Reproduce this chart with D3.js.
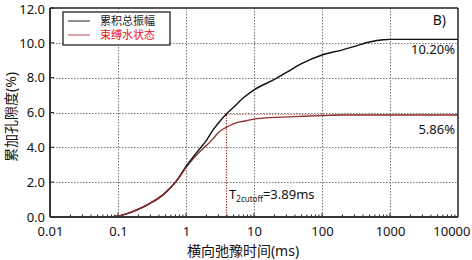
<!DOCTYPE html>
<html>
<head>
<meta charset="utf-8">
<script src="https://cdn.jsdelivr.net/npm/d3@7"></script>
<style>
  body { margin: 0; background: #fff; }
  text { font-family: "Noto Sans", "Noto Sans CJK SC", sans-serif; }
</style>
</head>
<body>
<div id="chart"></div>
<script>
// 数据: 横向弛豫时间 (ms) 与累加孔隙度 (%)
const totalT = [0.01, 0.05, 0.08, 0.1, 0.15, 0.2, 0.3, 0.4, 0.5, 0.7, 1, 1.5, 2, 2.5, 3, 3.89, 5, 7, 10, 20, 30, 50, 100, 200, 300, 500, 800, 1000, 10000];
const totalV = [0, 0, 0.02, 0.05, 0.25, 0.45, 0.8, 1.1, 1.4, 2.0, 2.9, 3.8, 4.4, 5.0, 5.4, 5.9, 6.3, 6.85, 7.3, 7.9, 8.3, 8.8, 9.3, 9.6, 9.8, 10.05, 10.18, 10.2, 10.2];
const boundT = [0.01, 0.05, 0.08, 0.1, 0.15, 0.2, 0.3, 0.4, 0.5, 0.7, 1, 1.5, 2, 2.5, 3, 3.89, 5, 7, 10, 20, 50, 100, 200, 10000];
const boundV = [0, 0, 0.02, 0.05, 0.25, 0.45, 0.8, 1.1, 1.4, 2.0, 2.85, 3.65, 4.1, 4.5, 4.85, 5.15, 5.35, 5.5, 5.62, 5.72, 5.78, 5.82, 5.86, 5.86];
const seriesNames = ["累积总振幅", "束缚水状态"];
const xTicks = [0.01, 0.1, 1, 10, 100, 1000, 10000];
const yTicks = [0, 2, 4, 6, 8, 10, 12];
const t2cutoff = 3.89;
const boundFinal = 5.86;
const totalFinal = 10.2;

const W = 472, H = 260;
const margin = { left: 50, right: 14, top: 8, bottom: 43 };
const width = W - margin.left - margin.right;
const height = H - margin.top - margin.bottom;

const svg = d3.select("#chart").append("svg")
    .attr("width", W).attr("height", H);
const g = svg.append("g").attr("transform", `translate(${margin.left},${margin.top})`);

const x = d3.scaleLog().domain([0.01, 10000]).range([0, width]);
const y = d3.scaleLinear().domain([0, 12]).range([height, 0]);

// 网格线 (点线)
const gridX = d => Math.round(x(d)) + 0.5;
const gridY = d => Math.round(y(d)) + 0.5;
g.selectAll(".vgrid").data(xTicks.slice(1, -1)).join("line")
    .attr("class", "vgrid")
    .attr("x1", gridX).attr("x2", gridX)
    .attr("y1", 0).attr("y2", height)
    .attr("stroke", "#7a7a7a").attr("stroke-width", 1.1).attr("stroke-dasharray", "1.5,1.5");
g.selectAll(".hgrid").data(yTicks.slice(1, -1)).join("line")
    .attr("class", "hgrid")
    .attr("x1", 0).attr("x2", width)
    .attr("y1", gridY).attr("y2", gridY)
    .attr("stroke", "#7a7a7a").attr("stroke-width", 1.1).attr("stroke-dasharray", "1.5,1.5");

// 坐标轴
const xAxis = d3.axisBottom(x).tickValues(xTicks).tickSize(0).tickFormat(d => String(d));
const gx = g.append("g").attr("transform", `translate(0,${height})`).call(xAxis);
gx.select(".domain").remove();
gx.selectAll("text").attr("dy", 0).attr("y", 19).style("font-size", "13px").attr("fill", "#111")
    .attr("text-anchor", d => d === 10000 ? "end" : "middle")
    .attr("x", d => d === 10000 ? 12 : 0);

const yAxis = d3.axisLeft(y).tickValues(yTicks).tickSize(0).tickFormat(d3.format(".1f"));
const gy = g.append("g").call(yAxis);
gy.select(".domain").remove();
gy.selectAll("text").attr("x", -5).attr("dy", d => d === 12 ? "0.4em" : "0.32em")
    .style("font-size", "13px").attr("fill", "#111");

// 次刻度 (内侧)
const minor = [];
for (let e = -2; e < 4; e++) for (let k = 1; k <= 9; k++) minor.push(k * Math.pow(10, e));
g.selectAll(".minor").data(minor).join("line")
    .attr("class", "minor")
    .attr("x1", d => x(d)).attr("x2", d => x(d))
    .attr("y1", height).attr("y2", d => xTicks.includes(d) ? height - 4 : height - 2.5)
    .attr("stroke", "#222").attr("stroke-width", 1);
g.selectAll(".ytick").data(yTicks).join("line")
    .attr("class", "ytick")
    .attr("x1", 0).attr("x2", 4)
    .attr("y1", d => y(d)).attr("y2", d => y(d))
    .attr("stroke", "#222");

// 截止线
g.append("line")
    .attr("x1", gridX(t2cutoff)).attr("x2", gridX(t2cutoff))
    .attr("y1", y(boundFinal)).attr("y2", height)
    .attr("stroke", "#8b1a1a").attr("stroke-width", 1.2).attr("stroke-dasharray", "1.2,1.5");
g.append("line")
    .attr("x1", x(t2cutoff)).attr("x2", width)
    .attr("y1", gridY(boundFinal) - 1).attr("y2", gridY(boundFinal) - 1)
    .attr("stroke", "#d06a6a").attr("stroke-width", 1.2).attr("stroke-dasharray", "1.2,1.5");

// 曲线
const line = d3.line().x(d => x(d[0])).y(d => y(d[1])).curve(d3.curveMonotoneX);
g.append("path").datum(boundT.map((t, i) => [t, boundV[i]]))
    .attr("d", line).attr("fill", "none").attr("stroke", "#8e2f2f").attr("stroke-width", 1.4);
g.append("path").datum(totalT.map((t, i) => [t, totalV[i]]))
    .attr("d", line).attr("fill", "none").attr("stroke", "#111").attr("stroke-width", 1.4);
// 红线在前段覆盖黑线
g.append("path").datum(boundT.filter(t => t <= 1.2).map(t => [t, boundV[boundT.indexOf(t)]]))
    .attr("d", line).attr("fill", "none").attr("stroke", "#8e2f2f").attr("stroke-width", 1.4);

// 边框
g.append("line").attr("x1", 0).attr("x2", 0).attr("y1", 0).attr("y2", height)
    .attr("stroke", "#333").attr("stroke-width", 2);
g.append("line").attr("x1", 0).attr("x2", width).attr("y1", height).attr("y2", height)
    .attr("stroke", "#333").attr("stroke-width", 2);
g.append("line").attr("x1", 0).attr("x2", width).attr("y1", 0).attr("y2", 0)
    .attr("stroke", "#222").attr("stroke-width", 1.5);
g.append("line").attr("x1", width).attr("x2", width).attr("y1", 0).attr("y2", height)
    .attr("stroke", "#222").attr("stroke-width", 1.5);

// 图例
const legend = g.append("g").attr("transform", "translate(13,4)");
legend.append("rect").attr("width", 107).attr("height", 33)
    .attr("fill", "#fff").attr("stroke", "#222").attr("stroke-width", 1.3);
const legendColors = ["#555", "#c8707a"];
const legendText = ["#222", "#e8141c"];
seriesNames.forEach((name, i) => {
    const row = legend.append("g").attr("transform", `translate(0,${9 + i * 14})`);
    row.append("line").attr("x1", 5).attr("x2", 27).attr("y1", 0).attr("y2", 0)
        .attr("stroke", legendColors[i]).attr("stroke-width", 1.3);
    row.append("text").attr("x", 37).attr("y", 4)
        .style("font-size", "11px").attr("fill", legendText[i]).text(name);
});

// 注释
g.append("text").attr("x", width - 12).attr("y", 17).attr("text-anchor", "end")
    .style("font-size", "14px").attr("fill", "#111").text("B)");
g.append("text").attr("x", width - 3).attr("y", y(totalFinal) + 15).attr("text-anchor", "end")
    .style("font-size", "13px").attr("fill", "#111").text(totalFinal.toFixed(2) + "%");
g.append("text").attr("x", width - 3).attr("y", y(boundFinal) + 19).attr("text-anchor", "end")
    .style("font-size", "13px").attr("fill", "#111").text(boundFinal.toFixed(2) + "%");
const tl = g.append("text").attr("x", x(t2cutoff) + 3).attr("y", 191)
    .style("font-size", "13px").attr("fill", "#111");
tl.append("tspan").text("T");
tl.append("tspan").attr("dy", 3).style("font-size", "8px").text("2cutoff");
tl.append("tspan").attr("dy", -3).text("=" + t2cutoff + "ms");

// 轴标题
svg.append("text").attr("x", 243).attr("y", 256)
    .attr("text-anchor", "middle").style("font-size", "14px").attr("fill", "#111")
    .text("横向弛豫时间(ms)");
svg.append("text").attr("transform", "translate(16,117) rotate(-90)")
    .attr("text-anchor", "middle").style("font-size", "14px").attr("fill", "#111")
    .text("累加孔隙度(%)");
</script>
</body>
</html>
